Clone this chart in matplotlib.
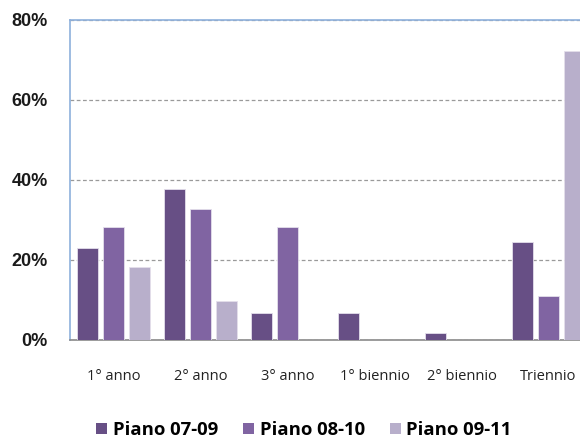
import matplotlib
matplotlib.use("Agg")
import matplotlib.pyplot as plt
import numpy as np
from matplotlib.ticker import PercentFormatter

categories = ["1° anno", "2° anno", "3° anno", "1° biennio", "2° biennio", "Triennio"]
series_names = ["Piano 07-09", "Piano 08-10", "Piano 09-11"]
piano_07_09 = [23.0, 37.7, 6.7, 6.7, 1.7, 24.6]
piano_08_10 = [28.2, 32.8, 28.2, 0.0, 0.0, 10.9]
piano_09_11 = [18.2, 9.7, 0.0, 0.0, 0.0, 72.3]
y_ticks = [0, 20, 40, 60, 80]

colors = ["#674f85", "#8064a2", "#b8afcb"]

W, H = 580, 441
fig = plt.figure(figsize=(W / 100, H / 100), dpi=100)
# plot area in pixels: left 70, top 20, bottom 340, category band 87 px
left, top, bottom = 70, 20, 340
band = 87
ax = fig.add_axes([left / W, (H - bottom) / H, band * len(categories) / W, (bottom - top) / H])

x = np.arange(len(categories))
width = 21 / band
offset = 26 / band
for i, vals in enumerate([piano_07_09, piano_08_10, piano_09_11]):
    ax.bar(x + (i - 1) * offset, vals, width, color=colors[i],
           edgecolor="#e4dfeb", linewidth=0.6, label=series_names[i], zorder=3)

ax.set_xlim(-0.5, len(categories) - 0.5)
ax.set_ylim(0, 80)
ax.set_yticks(y_ticks)
ax.yaxis.set_major_formatter(PercentFormatter(decimals=0))
ax.set_xticks(x)
ax.set_xticklabels(categories, fontsize=10.5, family="Open Sans", color="#222222")
for lbl in ax.get_yticklabels():
    lbl.set_fontsize(13)
    lbl.set_fontweight("bold")
    lbl.set_family("Liberation Sans")
    lbl.set_color("#1a1a1a")
ax.tick_params(axis="y", length=0, pad=16)
ax.tick_params(axis="x", length=0, pad=21)

ax.grid(axis="y", color="#9a9a9a", linestyle=(0, (3, 2)), linewidth=0.9, zorder=0)
ax.set_axisbelow(True)
for s in ["left", "top"]:
    ax.spines[s].set_color("#8eb0dc")
    ax.spines[s].set_linewidth(1.2)
ax.spines["right"].set_visible(False)
ax.spines["bottom"].set_color("#8a8a8a")
ax.spines["bottom"].set_linewidth(1.2)

leg = fig.legend(loc="center", bbox_to_anchor=(304 / W, (H - 430) / H), ncol=3,
                 frameon=False, handlelength=0.6, handleheight=0.6,
                 handletextpad=0.3, columnspacing=1.35, borderpad=0.1,
                 prop={"family": "Open Sans", "weight": "bold", "size": 13.3})
for h in leg.legend_handles:
    h.set_edgecolor("none")

fig.savefig("out.png", dpi=100)
